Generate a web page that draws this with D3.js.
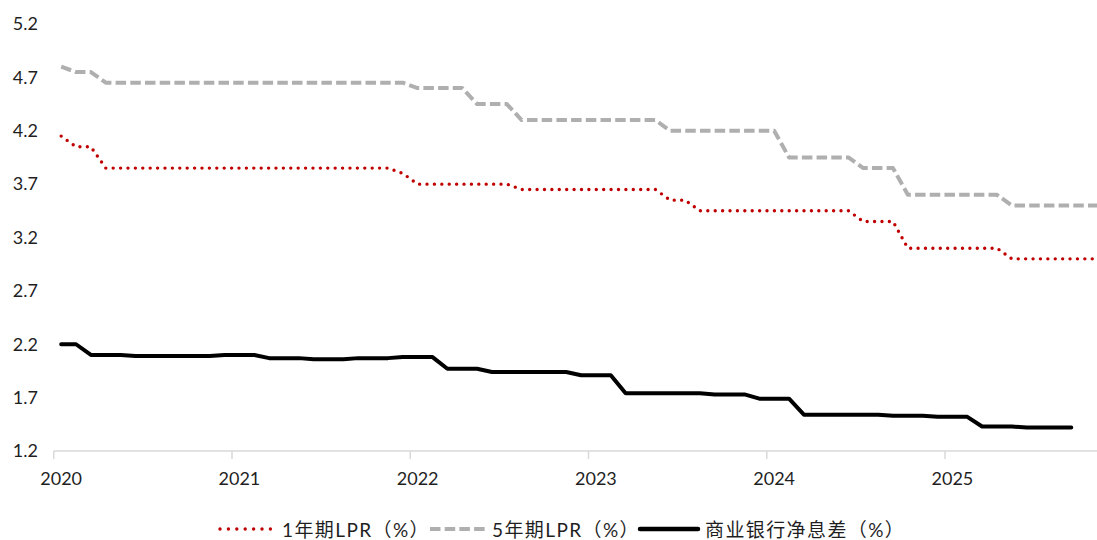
<!DOCTYPE html>
<html>
<head>
<meta charset="utf-8">
<script src="https://cdn.jsdelivr.net/npm/d3@7"></script>
<style>
  html, body { margin: 0; padding: 0; background: #fff; }
  svg { display: block; }
  text { font-family: Lato, "Noto Sans CJK SC", sans-serif; fill: #1f1f1f; }
</style>
</head>
<body>
<svg id="chart" width="1097" height="540"></svg>
<script>
// Monthly series, January 2020 onwards
const lpr1y = [
  4.15,4.05,4.05,3.85,3.85,3.85,3.85,3.85,3.85,3.85,3.85,3.85, // 2020
  3.85,3.85,3.85,3.85,3.85,3.85,3.85,3.85,3.85,3.85,3.85,3.80, // 2021
  3.70,3.70,3.70,3.70,3.70,3.70,3.70,3.65,3.65,3.65,3.65,3.65, // 2022
  3.65,3.65,3.65,3.65,3.65,3.55,3.55,3.45,3.45,3.45,3.45,3.45, // 2023
  3.45,3.45,3.45,3.45,3.45,3.45,3.35,3.35,3.35,3.10,3.10,3.10, // 2024
  3.10,3.10,3.10,3.10,3.00,3.00,3.00,3.00,3.00,3.00,3.00       // 2025
];
const lpr5y = [
  4.80,4.75,4.75,4.65,4.65,4.65,4.65,4.65,4.65,4.65,4.65,4.65,
  4.65,4.65,4.65,4.65,4.65,4.65,4.65,4.65,4.65,4.65,4.65,4.65,
  4.60,4.60,4.60,4.60,4.45,4.45,4.45,4.30,4.30,4.30,4.30,4.30,
  4.30,4.30,4.30,4.30,4.30,4.20,4.20,4.20,4.20,4.20,4.20,4.20,
  4.20,3.95,3.95,3.95,3.95,3.95,3.85,3.85,3.85,3.60,3.60,3.60,
  3.60,3.60,3.60,3.60,3.50,3.50,3.50,3.50,3.50,3.50,3.50
];
const nim = [
  2.20,2.20,2.10,2.10,2.10,2.09,2.09,2.09,2.09,2.09,2.09,2.10,
  2.10,2.10,2.07,2.07,2.07,2.06,2.06,2.06,2.07,2.07,2.07,2.08,
  2.08,2.08,1.97,1.97,1.97,1.94,1.94,1.94,1.94,1.94,1.94,1.91,
  1.91,1.91,1.74,1.74,1.74,1.74,1.74,1.74,1.73,1.73,1.73,1.69,
  1.69,1.69,1.54,1.54,1.54,1.54,1.54,1.54,1.53,1.53,1.53,1.52,
  1.52,1.52,1.43,1.43,1.43,1.42,1.42,1.42,1.42
];
const yearLabels = ["2020","2021","2022","2023","2024","2025"];
const yTicks = [1.2, 1.7, 2.2, 2.7, 3.2, 3.7, 4.2, 4.7, 5.2];
const legendLabels = ["1年期LPR（%）", "5年期LPR（%）", "商业银行净息差（%）"];

const svg = d3.select("#chart");

// one band per month, Jan 2020 – Dec 2025
const months = d3.timeMonth.range(new Date(2020, 0, 1), new Date(2026, 0, 1));
const monthStep = 178.25 / 12;
const x = d3.scaleBand()
  .domain(months.map((d, i) => i))
  .range([53.75, 53.75 + months.length * monthStep])
  .paddingInner(0).paddingOuter(0);
const xc = i => x(i) + x.bandwidth() / 2;

const y = d3.scaleLinear().domain([1.2, 5.2]).range([451, 24]);

// x axis: baseline, year boundary ticks, year labels on January bands
const axisY = y(1.2);
const xAxis = svg.append("g");
xAxis.append("line")
  .attr("x1", x(0)).attr("x2", x.range()[1])
  .attr("y1", axisY).attr("y2", axisY)
  .attr("stroke", "#d9d9d9").attr("stroke-width", 1.5);
const boundaries = d3.range(0, months.length + 1, 12);
xAxis.selectAll("line.tick").data(boundaries).join("line")
  .attr("class", "tick")
  .attr("x1", i => i < months.length ? x(i) : x.range()[1])
  .attr("x2", i => i < months.length ? x(i) : x.range()[1])
  .attr("y1", axisY).attr("y2", axisY + 8)
  .attr("stroke", "#d9d9d9").attr("stroke-width", 1.5);
xAxis.selectAll("text").data(yearLabels).join("text")
  .attr("x", (d, i) => xc(i * 12))
  .attr("y", 485)
  .attr("text-anchor", "middle")
  .attr("font-size", 18)
  .text(d => d);

// y axis: labels only
const yAxis = svg.append("g").attr("transform", "translate(41,0)")
  .call(d3.axisLeft(y).tickValues(yTicks).tickSize(0).tickPadding(3).tickFormat(d3.format(".1f")));
yAxis.select(".domain").remove();
yAxis.selectAll("text")
  .attr("font-size", 18)
  .attr("font-family", "Lato, sans-serif")
  .attr("fill", "#1f1f1f");

const line = d3.line().x((d, i) => xc(i)).y(d => y(d));

const styles = [
  { data: lpr1y, stroke: "#c00000", width: 3.4, dash: "0 7.4", cap: "round" },
  { data: lpr5y, stroke: "#afafaf", width: 4, dash: "10.5 4.2", cap: "butt" },
  { data: nim,   stroke: "#000000", width: 4, dash: null, cap: "round" }
];

svg.append("g").selectAll("path").data(styles).join("path")
  .attr("d", s => line(s.data))
  .attr("fill", "none")
  .attr("stroke", s => s.stroke)
  .attr("stroke-width", s => s.width)
  .attr("stroke-dasharray", s => s.dash)
  .attr("stroke-linecap", s => s.cap)
  .attr("stroke-linejoin", "round");

// legend
const legendItems = [
  { x0: 220, x1: 272, tx: 282, style: styles[0], dash: "0 8.4" },
  { x0: 430, x1: 487, tx: 492, style: styles[1], dash: "10.5 4.2" },
  { x0: 640, x1: 698, tx: 705, style: styles[2], dash: null }
];
const legend = svg.append("g");
legendItems.forEach((it, i) => {
  legend.append("line")
    .attr("x1", it.x0).attr("x2", it.x1)
    .attr("y1", 529).attr("y2", 529)
    .attr("stroke", it.style.stroke)
    .attr("stroke-width", i === 2 ? 4.5 : it.style.width)
    .attr("stroke-dasharray", it.dash)
    .attr("stroke-linecap", it.style.cap);
  legend.append("text")
    .attr("x", it.tx).attr("y", 537)
    .attr("font-size", 19)
    .attr("letter-spacing", 1.4)
    .text(legendLabels[i]);
});
</script>
</body>
</html>
